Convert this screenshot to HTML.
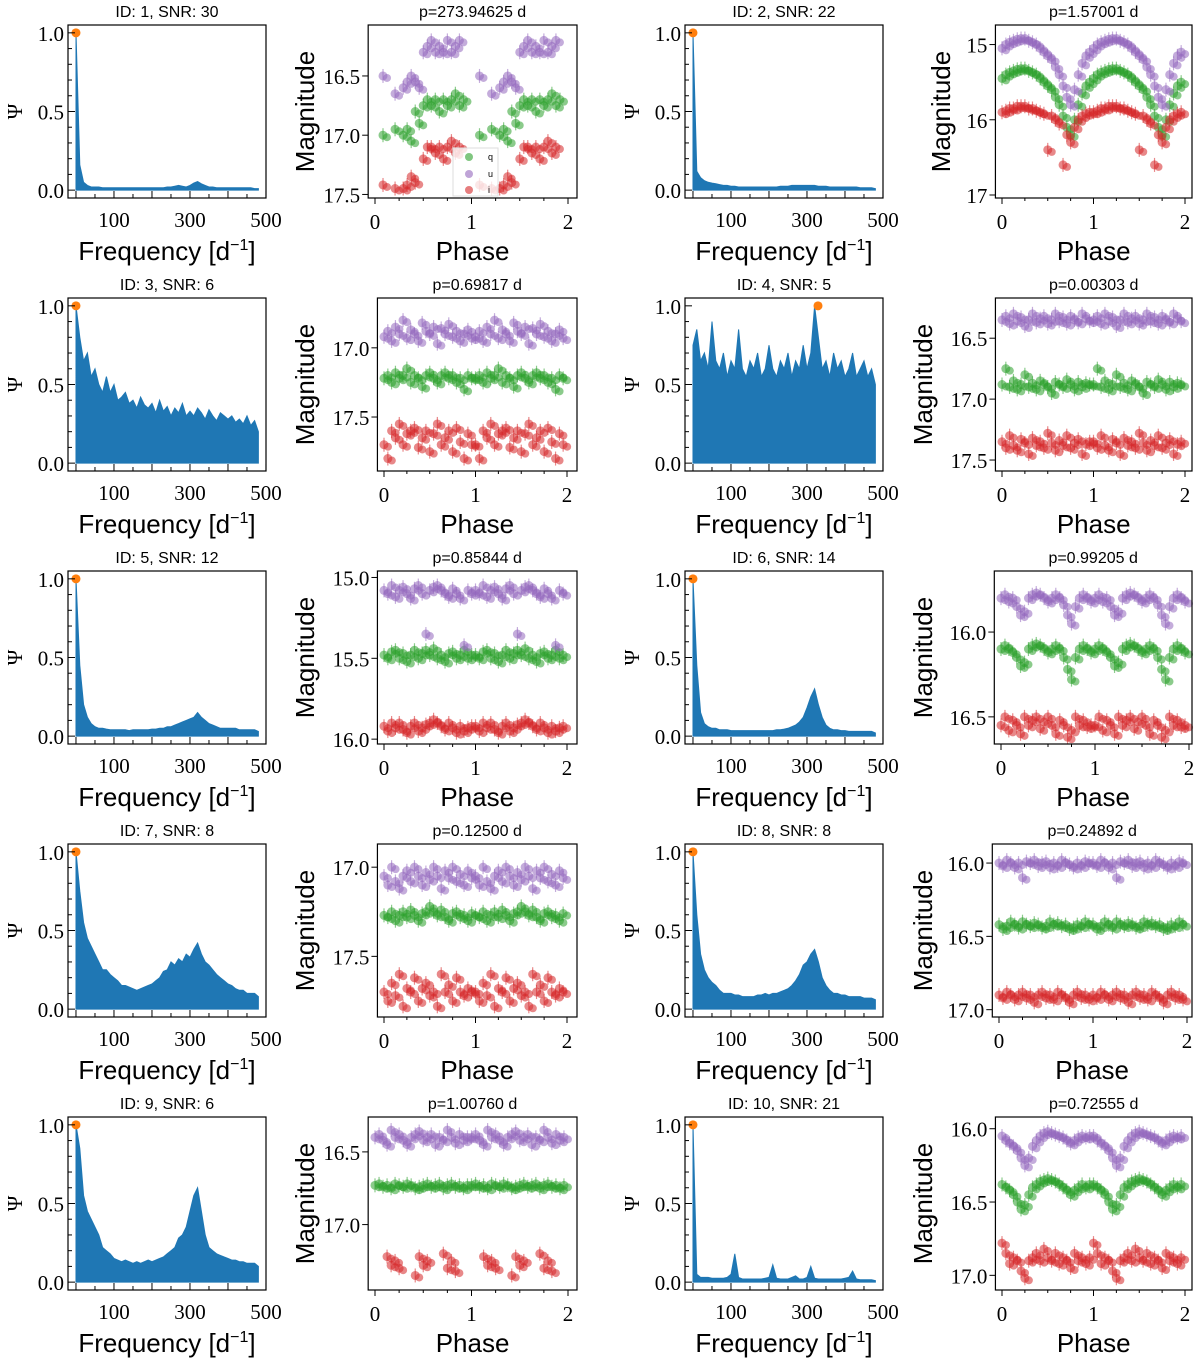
<!DOCTYPE html>
<html><head><meta charset="utf-8"><style>
body{margin:0;background:#fff}
svg text{fill:#000}
.tl{font-family:"Liberation Serif",serif;font-size:21px}
.ti{font-family:"Liberation Sans",sans-serif;font-size:16px}
.al{font-family:"Liberation Sans",sans-serif;font-size:26px}
</style></head><body>
<svg id="fig" width="1200" height="1362" xmlns="http://www.w3.org/2000/svg"></svg>
<script>
// ---------- data ----------
const freqStep = 10; // periodogram bins start at 0 d^-1
const psi1 = [1.0,0.16,0.05,0.03,0.02,0.02,0.02,0.015,0.015,0.015,0.015,0.015,0.015,0.015,0.015,0.015,0.015,0.015,0.015,0.015,0.015,0.015,0.015,0.015,0.02,0.02,0.025,0.03,0.025,0.02,0.03,0.045,0.055,0.04,0.03,0.02,0.02,0.015,0.015,0.015,0.015,0.015,0.015,0.015,0.015,0.015,0.015,0.01,0.01];
const psi2 = [1.0,0.12,0.08,0.06,0.05,0.045,0.04,0.035,0.03,0.03,0.025,0.025,0.02,0.02,0.02,0.02,0.02,0.02,0.02,0.02,0.02,0.02,0.02,0.025,0.025,0.025,0.03,0.03,0.03,0.03,0.03,0.03,0.03,0.025,0.025,0.025,0.02,0.02,0.02,0.02,0.02,0.02,0.02,0.02,0.015,0.015,0.015,0.015,0.01];
const psi3 = [1.0,0.8,0.65,0.7,0.55,0.6,0.5,0.45,0.55,0.45,0.5,0.4,0.42,0.45,0.38,0.4,0.35,0.42,0.37,0.35,0.38,0.32,0.4,0.33,0.36,0.3,0.35,0.32,0.38,0.3,0.33,0.3,0.35,0.32,0.28,0.34,0.3,0.27,0.32,0.3,0.28,0.3,0.26,0.28,0.25,0.3,0.24,0.27,0.2];
const psi4 = [0.75,0.85,0.65,0.7,0.6,0.9,0.65,0.6,0.7,0.55,0.65,0.6,0.85,0.6,0.55,0.65,0.6,0.7,0.55,0.6,0.75,0.6,0.55,0.65,0.6,0.7,0.55,0.65,0.6,0.75,0.6,0.7,1.0,0.8,0.6,0.65,0.55,0.7,0.6,0.65,0.55,0.6,0.7,0.55,0.6,0.65,0.55,0.6,0.5];
const psi5 = [1.0,0.45,0.2,0.12,0.08,0.06,0.05,0.05,0.045,0.04,0.04,0.04,0.04,0.04,0.035,0.04,0.04,0.04,0.04,0.04,0.045,0.045,0.05,0.05,0.06,0.06,0.07,0.08,0.09,0.1,0.11,0.12,0.15,0.12,0.1,0.08,0.07,0.06,0.05,0.05,0.05,0.05,0.05,0.04,0.04,0.04,0.04,0.04,0.03];
const psi6 = [1.0,0.45,0.15,0.08,0.06,0.05,0.05,0.04,0.04,0.04,0.035,0.035,0.035,0.035,0.035,0.035,0.035,0.035,0.035,0.035,0.035,0.035,0.04,0.04,0.045,0.05,0.06,0.07,0.09,0.12,0.18,0.25,0.3,0.2,0.12,0.07,0.05,0.04,0.04,0.035,0.035,0.03,0.03,0.03,0.03,0.03,0.03,0.03,0.02];
const psi7 = [1.0,0.75,0.55,0.45,0.4,0.35,0.3,0.25,0.25,0.22,0.2,0.18,0.15,0.15,0.14,0.13,0.12,0.13,0.14,0.15,0.16,0.18,0.2,0.24,0.25,0.3,0.28,0.32,0.3,0.35,0.33,0.38,0.42,0.35,0.3,0.28,0.25,0.22,0.2,0.18,0.16,0.15,0.13,0.12,0.12,0.1,0.1,0.1,0.08];
const psi8 = [1.0,0.6,0.35,0.25,0.2,0.17,0.15,0.12,0.1,0.1,0.1,0.09,0.09,0.08,0.08,0.08,0.08,0.09,0.09,0.1,0.09,0.1,0.1,0.11,0.12,0.13,0.15,0.18,0.22,0.28,0.3,0.35,0.38,0.3,0.2,0.15,0.12,0.1,0.1,0.09,0.09,0.08,0.08,0.08,0.08,0.07,0.07,0.07,0.06];
const psi9 = [1.0,0.85,0.55,0.45,0.4,0.35,0.3,0.22,0.2,0.18,0.15,0.14,0.13,0.14,0.13,0.12,0.13,0.12,0.13,0.14,0.13,0.14,0.15,0.16,0.18,0.2,0.22,0.28,0.3,0.35,0.45,0.55,0.6,0.45,0.3,0.22,0.2,0.18,0.17,0.16,0.15,0.14,0.14,0.13,0.13,0.12,0.12,0.12,0.1];
const psi10 = [1.0,0.05,0.03,0.03,0.03,0.025,0.025,0.025,0.025,0.03,0.05,0.18,0.03,0.02,0.02,0.02,0.02,0.02,0.02,0.025,0.03,0.11,0.025,0.02,0.02,0.02,0.03,0.04,0.02,0.02,0.03,0.1,0.025,0.02,0.02,0.02,0.02,0.02,0.02,0.02,0.025,0.03,0.07,0.02,0.015,0.015,0.015,0.015,0.01];
const peakFreq = [0,0,0,329,0,0,0,0,0,0];
const ids = [1,2,3,4,5,6,7,8,9,10];
const snrs = [30,22,6,5,12,14,8,8,6,21];
const periods = ["273.94625","1.57001","0.69817","0.00303","0.85844","0.99205","0.12500","0.24892","1.00760","0.72555"];
const phaseGrid = [0,0.042,0.083,0.125,0.167,0.208,0.25,0.292,0.333,0.375,0.417,0.458,0.5,0.542,0.583,0.625,0.667,0.708,0.75,0.792,0.833,0.875,0.917,0.958];
const u1=[null,null,16.5,null,null,16.65,null,16.6,16.55,16.5,16.55,16.6,16.3,16.25,16.2,16.3,16.25,16.3,16.2,16.3,16.25,16.2,null,null];
const q1=[null,null,17.0,null,null,16.95,null,17.0,16.95,17.05,16.8,16.9,16.75,16.7,16.75,16.7,16.8,16.7,16.75,16.7,16.65,16.75,16.7,null];
const i1=[null,null,17.42,null,null,17.45,null,17.45,17.42,17.35,17.4,null,17.2,17.1,17.1,17.15,17.1,17.2,17.1,17.05,17.15,17.1,null,null];
const u2=[15.05,15.0,14.97,14.95,14.93,14.92,14.92,14.95,14.97,15.0,15.05,15.1,15.15,15.2,15.3,15.4,15.55,15.7,15.8,15.6,15.4,15.25,15.15,15.1];
const q2=[15.45,15.4,15.37,15.35,15.33,15.32,15.32,15.35,15.37,15.4,15.45,15.5,15.55,15.6,15.7,15.8,15.95,16.1,16.2,16.0,15.8,15.65,15.55,15.5];
const i2=[15.9,15.88,15.85,15.85,15.82,15.82,15.82,15.85,15.85,15.88,15.9,15.92,16.4,15.95,16.0,16.05,16.6,16.2,16.3,16.1,16.0,15.95,15.92,15.9];
const u3=[16.92,16.88,16.95,16.85,16.9,16.8,16.93,16.87,16.9,16.95,16.82,16.88,16.9,16.85,16.97,16.86,16.9,16.83,16.92,16.88,16.95,16.9,16.87,16.93];
const q3=[17.22,17.2,17.25,17.18,17.22,17.2,17.15,17.25,17.2,17.22,17.28,17.2,17.18,17.22,17.25,17.2,17.18,17.22,17.2,17.25,17.22,17.3,17.2,17.22];
const i3=[17.7,17.8,17.6,17.65,17.55,17.7,17.62,17.6,17.58,17.72,17.65,17.6,17.75,17.62,17.55,17.7,17.65,17.6,17.75,17.58,17.68,17.8,17.62,17.7];
const u4=[16.35,16.32,16.38,16.3,16.36,16.33,16.4,16.35,16.3,16.37,16.34,16.32,16.38,16.35,16.3,16.36,16.33,16.38,16.32,16.35,16.37,16.3,16.34,16.36];
const q4=[16.88,16.75,16.9,16.85,16.92,16.88,16.8,16.9,16.87,16.92,16.85,16.88,16.9,16.95,16.86,16.88,16.9,16.84,16.88,16.92,16.86,16.9,16.87,16.88];
const i4=[17.35,17.4,17.3,17.38,17.42,17.33,17.36,17.45,17.32,17.38,17.35,17.4,17.28,17.36,17.42,17.34,17.38,17.3,17.4,17.36,17.33,17.45,17.37,17.35];
const u5=[15.08,15.1,15.05,15.12,15.08,15.06,15.1,15.13,15.07,15.05,15.1,15.35,15.08,15.06,15.05,15.08,15.1,15.12,15.07,15.1,15.13,15.42,15.08,15.1];
const q5=[15.48,15.5,15.46,15.45,15.5,15.47,15.52,15.48,15.45,15.5,15.47,15.45,15.48,15.44,15.5,15.48,15.52,15.47,15.46,15.5,15.48,15.45,15.5,15.48];
const i5=[15.92,15.95,15.9,15.93,15.9,15.94,15.96,15.92,15.9,15.95,15.93,15.91,15.9,15.88,15.9,15.92,15.94,15.9,15.93,15.96,15.92,15.95,15.93,15.92];
const u6=[15.8,15.78,15.82,15.8,15.85,15.9,15.88,15.8,15.78,15.77,15.78,15.8,15.82,15.8,15.78,15.8,15.84,15.9,15.95,15.85,15.8,15.78,15.8,15.82];
const q6=[16.1,16.08,16.1,16.12,16.15,16.2,16.18,16.1,16.08,16.07,16.08,16.1,16.12,16.1,16.08,16.1,16.15,16.22,16.28,16.15,16.1,16.08,16.1,16.12];
const i6=[16.55,16.5,16.58,16.52,16.55,16.6,16.5,16.55,16.52,16.5,16.57,16.53,16.5,16.55,16.6,16.52,16.55,16.62,16.58,16.5,16.55,16.52,16.56,16.55];
const u7=[17.05,17.1,17.0,17.08,17.12,17.05,17.02,17.08,17.0,17.05,17.1,17.03,17.07,17.0,17.05,17.12,17.02,17.06,17.0,17.08,17.04,17.1,17.02,17.06];
const q7=[17.27,17.28,17.25,17.3,17.27,17.25,17.28,17.24,17.27,17.3,17.26,17.25,17.22,17.25,17.27,17.24,17.28,17.3,17.26,17.25,17.28,17.27,17.3,17.26];
const i7=[17.7,17.75,17.65,17.72,17.6,17.78,17.68,17.7,17.62,17.75,17.68,17.65,17.72,17.7,17.78,17.6,17.7,17.66,17.75,17.62,17.7,17.72,17.68,17.7];
const u8=[16.0,16.02,15.98,16.0,16.03,16.0,16.1,15.99,16.0,15.98,16.02,16.0,15.99,16.03,16.0,16.02,15.98,16.0,16.01,16.03,16.0,16.02,15.99,16.0];
const q8=[16.42,16.45,16.43,16.4,16.42,16.44,16.4,16.42,16.43,16.41,16.42,16.44,16.43,16.4,16.42,16.41,16.43,16.42,16.45,16.44,16.42,16.43,16.4,16.42];
const i8=[16.9,16.92,16.88,16.9,16.93,16.9,16.88,16.92,16.9,16.95,16.9,16.88,16.92,16.9,16.93,16.88,16.9,16.92,16.95,16.9,16.88,16.92,16.9,16.93];
const u9=[16.4,16.38,16.42,16.45,16.35,16.4,16.38,16.42,16.45,16.4,16.38,16.36,16.42,16.4,16.38,16.45,16.4,16.42,16.35,16.4,16.44,16.38,16.42,16.4];
const q9=[16.73,16.72,16.74,16.73,16.75,16.72,16.73,16.74,16.72,16.73,16.75,16.74,16.73,16.72,16.74,16.73,16.72,16.75,16.73,16.72,16.74,16.73,16.75,16.73];
const i9=[null,null,null,17.22,17.28,17.25,17.3,null,null,null,17.35,17.22,17.28,17.25,null,null,null,17.2,17.3,17.25,17.32,null,null,null];
const u10=[16.05,16.08,16.1,16.12,16.15,16.2,16.25,16.2,16.12,16.08,16.05,16.03,16.02,16.03,16.04,16.05,16.06,16.08,16.1,16.08,16.06,16.05,16.06,16.05];
const q10=[16.38,16.4,16.42,16.45,16.5,16.55,16.52,16.45,16.4,16.38,16.36,16.35,16.34,16.35,16.36,16.38,16.4,16.42,16.45,16.42,16.4,16.38,16.4,16.38];
const i10=[16.78,16.85,16.92,16.88,16.9,16.97,17.02,16.9,16.88,16.85,16.9,16.82,16.88,16.9,16.85,16.92,16.88,16.9,16.95,16.85,16.9,16.88,16.92,16.88];
const psis=[psi1,psi2,psi3,psi4,psi5,psi6,psi7,psi8,psi9,psi10];
const uBand=[u1,u2,u3,u4,u5,u6,u7,u8,u9,u10];
const qBand=[q1,q2,q3,q4,q5,q6,q7,q8,q9,q10];
const iBand=[i1,i2,i3,i4,i5,i6,i7,i8,i9,i10];
const magTicks=[[16.5,17.0,17.5],[15,16,17],[17.0,17.5],[16.5,17.0,17.5],[15.0,15.5,16.0],[16.0,16.5],[17.0,17.5],[16.0,16.5,17.0],[16.5,17.0],[16.0,16.5,17.0]];
const magRange=[[16.07,17.53],[14.74,17.04],[16.64,17.89],[16.17,17.59],[14.96,16.03],[15.64,16.66],[16.87,17.84],[15.87,17.05],[16.26,17.45],[15.92,17.1]];
// ---------- drawing ----------
const svg=document.getElementById('fig');
const NS='http://www.w3.org/2000/svg';
function mk(tag,attrs,parent,text){const e=document.createElementNS(NS,tag);for(const k in attrs)e.setAttribute(k,attrs[k]);if(text!==undefined)e.textContent=text;(parent||svg).appendChild(e);return e;}
const colors={u:'#9467bd',q:'#2ca02c',i:'#d62728'};
for(let k=0;k<10;k++){
  const r=Math.floor(k/2), c=k%2;
  const top=25+r*273, bot=top+173;
  // periodogram
  const L=c===0?68:685, R=L+198;
  const g=mk('g',{});
  
  
  const fx=f=>L+(f+21)*0.38, fy=v=>bot-(v+0.05)*157.3;
  let d='M'+fx(0)+','+fy(0);
  psis[k].forEach((v,j)=>{d+=' L'+fx(j*freqStep).toFixed(1)+','+fy(v).toFixed(1);});
  d+=' L'+fx((psis[k].length-1)*freqStep)+','+fy(0)+' Z';
  const area=mk('path',{d:d,fill:'#1f77b4',stroke:'#1f77b4','stroke-width':1},g);
  
  
  const pk=mk('circle',{cx:fx(peakFreq[k]),cy:fy(1.0),r:4.5,fill:'#ff7f0e'},g);
  
  
  mk('rect',{x:L,y:top,width:R-L,height:bot-top,fill:'none',stroke:'#000','stroke-width':1.2},g);
  for(let f=0;f<=500;f+=50){const x=fx(f);const len=f%100===0?7:4;mk('line',{x1:x,x2:x,y1:bot,y2:bot-len,stroke:'#000'},g);}
  [100,300,500].forEach(f=>mk('text',{x:fx(f),y:bot+29,'text-anchor':'middle',class:'tl'},g,String(f)));
  for(let v=0;v<=1.0001;v+=0.1){const y=fy(v);const maj=Math.abs(v*2-Math.round(v*2))<1e-6;mk('line',{x1:L,x2:L+(maj?7:4),y1:y,y2:y,stroke:'#000'},g);}
  [0,0.5,1.0].forEach(v=>mk('text',{x:L-4,y:fy(v)+8,'text-anchor':'end',class:'tl'},g,v.toFixed(1)));
  const t1=mk('text',{x:(L+R)/2,y:top-8,'text-anchor':'middle',class:'ti'},g,'ID: '+ids[k]+', SNR: '+snrs[k]);
  
  
  const xl=mk('text',{x:(L+R)/2,y:bot+62,'text-anchor':'middle',class:'al'},g,'Frequency [d');
  mk('tspan',{'font-size':'16','dy':'-10'},xl,'−1');
  mk('tspan',{'dy':'10'},xl,']');
  
  
  const yl=mk('text',{x:0,y:0,transform:'translate('+(L-46)+','+((top+bot)/2)+') rotate(-90)','text-anchor':'middle',class:'tl','font-size':'26'},g,'Ψ');
  
  
  // phase plot
  let z,s;
  if(c===0){ if(r===0||r===4){z=375;s=96.5;} else {z=384;s=91.5;} }
  else { const zs=[1002,1002,1001,999,1002]; z=zs[r]; s=(r===2||r===3)?94:91.5; }
  const PL=z-0.05*s-2, PR=c===0?577:1192;
  const pg=mk('g',{});
  
  
  const [m0,m1]=magRange[k];
  const px=p=>z+p*s, py=m=>top+(m-m0)/(m1-m0)*(bot-top);
  const bands=[['q',qBand[k]],['u',uBand[k]],['i',iBand[k]]];
  bands.forEach(([b,arr])=>{
    const bg=mk('g',{fill:colors[b],stroke:colors[b],'fill-opacity':0.55,'stroke-opacity':0.55},pg);
    
    
    arr.forEach((m,j)=>{ if(m===null)return;
      [0,1].forEach(o=>{const x=px(phaseGrid[j]+o),y=py(m);
        mk('line',{x1:x,x2:x,y1:y-7,y2:y+7,'stroke-width':1.2},bg);
        mk('circle',{cx:x,cy:y,r:4.5,stroke:'none'},bg);
        mk('circle',{cx:x+4,cy:y+2,r:4,stroke:'none'},bg);});
    });
  });
  mk('rect',{x:PL,y:top,width:PR-PL,height:bot-top,fill:'none',stroke:'#000','stroke-width':1.2},pg);
  for(let p=0;p<=2.001;p+=0.25){const x=px(p);const maj=Math.abs(p-Math.round(p))<1e-6;mk('line',{x1:x,x2:x,y1:bot,y2:bot+(maj?6:3),stroke:'#000'},pg);}
  [0,1,2].forEach(p=>mk('text',{x:px(p),y:bot+31,'text-anchor':'middle',class:'tl'},pg,String(p)));
  magTicks[k].forEach(m=>{const y=py(m);mk('line',{x1:PL,x2:PL-6,y1:y,y2:y,stroke:'#000'},pg);
    mk('text',{x:PL-8,y:y+8,'text-anchor':'end',class:'tl'},pg,(k===1?String(m):m.toFixed(1)));});
  const t2=mk('text',{x:(PL+PR)/2,y:top-8,'text-anchor':'middle',class:'ti'},pg,'p='+periods[k]+' d');
  
  
  const xl2=mk('text',{x:(PL+PR)/2,y:bot+62,'text-anchor':'middle',class:'al'},pg,'Phase');
  
  
  const magX = c===0 ? (r===0||r===4 ? 314 : 314) : (k===1 ? 950 : 932);
  const yl2=mk('text',{x:0,y:0,transform:'translate('+magX+','+((top+bot)/2)+') rotate(-90)','text-anchor':'middle',class:'al'},pg,'Magnitude');
  
  
  if(k===0){
    const lg=mk('g',{},pg);
    
    
    mk('rect',{x:453,y:148,width:45,height:48,fill:'#fff','fill-opacity':0.8,stroke:'#ddd'},lg);
    [['q',157],['u',174],['i',190]].forEach(([b,y])=>{
      mk('circle',{cx:469,cy:y,r:4,fill:colors[b],'fill-opacity':0.6},lg);
      mk('text',{x:488,y:y+3,'font-size':9,'font-family':'Liberation Sans, sans-serif'},lg,b);});
  }
}
</script>
</body></html>
